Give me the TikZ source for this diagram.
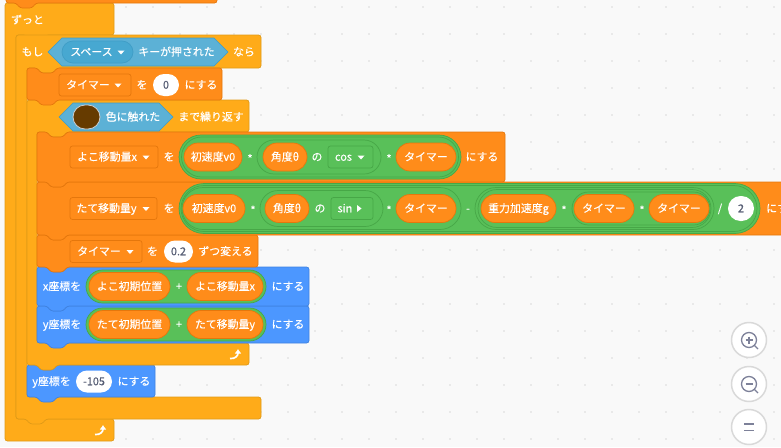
\documentclass[tikz,border=0pt]{standalone}
\usepackage{fontspec}
\setmainfont{Noto Sans CJK JP}[FakeBold=0.25]
\usetikzlibrary{arrows.meta, shapes.misc}

\definecolor{bgcol}{HTML}{F9F9F9}
\definecolor{dotcol}{HTML}{E9E9E9}
\definecolor{varcol}{HTML}{FF8C1A}
\definecolor{varline}{HTML}{E5770C}
\definecolor{ctrlcol}{HTML}{FFAB19}
\definecolor{ctrlline}{HTML}{E09A17}
\definecolor{sensecol}{HTML}{5CB1D6}
\definecolor{senseline}{HTML}{3F9DC6}
\definecolor{sensedark}{HTML}{47A8D1}
\definecolor{opcol}{HTML}{59C059}
\definecolor{opline}{HTML}{47A747}
\definecolor{motioncol}{HTML}{4C97FF}
\definecolor{motionline}{HTML}{3F82E0}
\definecolor{numcol}{HTML}{575E75}
\definecolor{iconcol}{HTML}{7D8199}
\definecolor{swatchcol}{HTML}{663B00}

% 積み重ねブロック
\newcommand\stackblock[5]{%
  \draw[#1, rounded corners=2.5pt] (#2,#3) -- ({#2+10},#3) -- ({#2+14},{#3+5}) -- ({#2+26},{#3+5}) -- ({#2+30},#3) -- (#4,#3)
    -- (#4,#5) -- ({#2+30},#5) -- ({#2+26},{#5+5}) -- ({#2+14},{#5+5}) -- ({#2+10},#5) -- (#2,#5) -- cycle;}
% C型ブロック
\newcommand\cblock[9]{%
  \draw[#1, rounded corners=2.5pt] (#2,#3) -- (#4,#3) -- (#4,#5) -- ({#6+30},#5) -- ({#6+26},{#5+5}) -- ({#6+14},{#5+5}) -- ({#6+10},#5)
    -- (#6,#5) -- (#6,#7) -- (#4,#7) -- (#4,#8) -- ({#2+30},#8) -- ({#2+26},{#8+#9}) -- ({#2+14},{#8+#9}) -- ({#2+10},#8) -- (#2,#8) -- cycle;}

\begin{document}
\begin{tikzpicture}[
    x=1pt, y=-1pt,
    every node/.style={font=\fontsize{10.9pt}{12pt}\selectfont, inner sep=0pt, text height=9pt, text depth=1.5pt},
    label/.style={text=white},
    varblock/.style={fill=varcol, draw=varline, line width=0.7pt},
    ctrlblock/.style={fill=ctrlcol, draw=ctrlline, line width=0.7pt},
    motionblock/.style={fill=motioncol, draw=motionline, line width=0.7pt},
    hexa/.style={fill=sensecol, draw=senseline, line width=0.7pt},
    varpill/.style={rounded rectangle, fill=varcol, draw=varline, line width=0.7pt, text=white, minimum height=28pt},
    numpill/.style={rounded rectangle, fill=white, text=numcol, minimum height=22pt},
    opring/.style={rounded rectangle, fill=opcol, draw=opline, line width=0.7pt},
    vardrop/.style={rectangle, rounded corners=2.5pt, fill=varcol, draw=varline, line width=0.7pt, text=white, minimum height=22pt},
    opdrop/.style={rectangle, rounded corners=2.5pt, fill=opcol, draw=opline, line width=0.7pt, text=white, minimum height=22pt},
    senspill/.style={rounded rectangle, fill=sensedark, draw=senseline, line width=0.7pt, text=white, minimum height=22pt},
    swatch/.style={rounded rectangle, fill=swatchcol, draw=white!80!black, line width=0.8pt, minimum width=27pt, minimum height=24pt},
    zoombtn/.style={circle, fill=white, draw=black!15, line width=1.5pt, minimum size=35pt},
    iconline/.style={draw=iconcol, line width=1.3pt},
    turnarrow/.style={draw=white, line width=1.7pt, -{Latex[length=4.5pt,width=7pt]}}
]
\clip (0,0) rectangle (781,447);
\fill[bgcol] (0,0) rectangle (781,447);

% 背景の点
\foreach \i in {0,...,28} {
    \foreach \j in {0,...,16} {
        \fill[dotcol] ({18+27*\i-1},{7+27*\j-1}) rectangle ({18+27*\i+1},{7+27*\j+1});
    }
}

% ズームボタン
\node[zoombtn] (zoomin) at (749,340) {};
\node[zoombtn] (zoomout) at (749,384) {};
\node[zoombtn] (zoomreset) at (749,427) {};
\foreach \cy in {340,384} {
    \draw[iconline] (749,\cy) circle (7.5);
    \draw[iconline] (754.5,\cy+5.5) -- (758,\cy+9);
    \draw[iconline] (745.5,\cy) -- (752.5,\cy);
}
\draw[iconline] (749,336.5) -- (749,343.5);
\draw[iconline, line width=1.6pt] (744,424) -- (754,424);
\draw[iconline, line width=1.6pt] (744,430.5) -- (754,430.5);

% ブロック
\cblock{ctrlblock}{5}{3}{114}{35}{16}{419}{441}{0}
\cblock{ctrlblock}{16}{35}{261}{68}{27}{397}{419}{5}
\stackblock{motionblock}{27}{365}{155}{397}
\cblock{ctrlblock}{27}{100}{249}{132}{37}{343}{365}{5}
\stackblock{motionblock}{37}{306}{309}{343}
\stackblock{motionblock}{37}{267}{309}{306}
\stackblock{varblock}{37}{235}{258}{267}
\stackblock{varblock}{37}{182}{820}{235}
\stackblock{varblock}{37}{132}{505}{182}
\stackblock{varblock}{27}{68}{222}{100}
\draw[varblock, rounded corners=2.5pt] (6,-10) -- (217,-10) -- (217,3) -- (36,3) -- (32,8) -- (20,8) -- (16,3) -- (6,3) -- cycle;

% ずっと・もし
\node[label, anchor=west] (forever) at (11,20) {ずっと};
\node[label] (iflabel) at (32.5,52) {もし};
\draw[hexa] (48,52) -- (62,38) -- (214,38) -- (228,52) -- (214,66) -- (62,66) -- cycle;
\node[senspill, minimum width=71pt] (spacekey) at (97.5,52) {スペース\kern12pt};
\node[label] (keypressed) at (176.5,52) {キーが押された};
\node[label] (thenlabel) at (244,52) {なら};

% タイマーを0にする
\node[vardrop, minimum width=72pt] (timerdrop) at (95,85) {タイマー\kern14pt};
\node[label] (wo1) at (142,85) {を};
\node[numpill, minimum width=26pt] (zero) at (166,85) {0};
\node[label] (suru1) at (201,85) {にする};

% 色に触れたまで繰り返す
\draw[hexa] (59,117) -- (73,103) -- (159,103) -- (173,117) -- (159,131) -- (73,131) -- cycle;
\node[swatch] (colorswatch) at (86.5,117) {};
\node[label] (touching) at (133,117) {色に触れた};
\node[label] (repeatlabel) at (211,117) {まで繰り返す};

% よこ移動量x
\node[vardrop, minimum width=88pt] (yokodrop) at (114,157) {よこ移動量x\kern14pt};
\node[label] (wo2) at (169,157) {を};
\node[opring, minimum width=282pt, minimum height=44pt] (yokoringa) at (320,157) {};
\node[opring, minimum width=277pt, minimum height=40pt] (yokoringb) at (320,157) {};
\node[opring, minimum width=124pt, minimum height=34pt] (yokoringc) at (319,157) {};
\node[varpill, minimum width=58pt] (vzeroa) at (213,157) {初速度v0};
\node[label] (mula) at (250,159) {*};
\node[varpill, minimum width=44pt] (anglea) at (285,157) {角度θ};
\node[label] (noa) at (317,157) {の};
\node[opdrop, minimum width=45pt] (cosdrop) at (350.5,157) {cos\kern14pt};
\node[label] (mulb) at (389,159) {*};
\node[varpill, minimum width=60pt] (timera) at (426,157) {タイマー};
\node[label] (suru2) at (482,157) {にする};

% たて移動量y
\node[vardrop, minimum width=87pt] (tatedrop) at (113.5,208.5) {たて移動量y\kern14pt};
\node[label] (wo3) at (169,208.5) {を};
\node[opring, minimum width=581pt, minimum height=50pt] (tateringa) at (469.5,208.5) {};
\node[opring, minimum width=576pt, minimum height=46pt] (tateringb) at (469,208.5) {};
\node[opring, minimum width=279pt, minimum height=42pt] (tateringc) at (321.5,208.5) {};
\node[opring, minimum width=123pt, minimum height=36pt] (tateringd) at (321.5,208.5) {};
\node[opring, minimum width=239pt, minimum height=42pt] (tateringe) at (594.5,208.5) {};
\node[opring, minimum width=233pt, minimum height=38pt] (tateringf) at (594.5,208.5) {};
\node[opring, minimum width=138pt, minimum height=33pt] (tateringg) at (641,208.5) {};
\node[varpill, minimum width=62pt] (vzerob) at (214,208.5) {初速度v0};
\node[label] (mulc) at (253,210.5) {*};
\node[varpill, minimum width=44pt] (angleb) at (287,208.5) {角度θ};
\node[label] (nob) at (320,208.5) {の};
\node[opdrop, minimum width=42pt] (sindrop) at (352,208.5) {sin\kern14pt};
\node[label] (muld) at (389,210.5) {*};
\node[varpill, minimum width=60pt] (timerb) at (426,208.5) {タイマー};
\node[label] (minus) at (468,208.5) {-};
\node[varpill, minimum width=75pt] (gravity) at (518.5,208.5) {重力加速度g};
\node[label] (mule) at (564,210.5) {*};
\node[varpill, minimum width=60pt] (timerc) at (604,208.5) {タイマー};
\node[label] (mulf) at (642,210.5) {*};
\node[varpill, minimum width=60pt] (timerd) at (679,208.5) {タイマー};
\node[label] (divide) at (720,208.5) {/};
\node[numpill, minimum width=26pt, minimum height=25pt] (two) at (741,208.5) {2};
\node[label, anchor=west] (suru3) at (766,208.5) {にする};

% タイマーを0.2ずつ変える
\node[vardrop, minimum width=72pt] (timerdropb) at (106,251.5) {タイマー\kern14pt};
\node[label] (wo4) at (152.5,251.5) {を};
\node[numpill, minimum width=29pt] (step) at (178.5,251.5) {0.2};
\node[label] (change) at (225.5,251.5) {ずつ変える};

% x座標・y座標
\node[label] (xlabel) at (62,286.5) {x座標を};
\node[opring, minimum width=180pt, minimum height=33pt] (xring) at (176,286.5) {};
\node[varpill, minimum width=81pt] (xstart) at (129.5,286.5) {よこ初期位置};
\node[label] (plusa) at (179,286.5) {+};
\node[varpill, minimum width=76pt] (xmove) at (225,286.5) {よこ移動量x};
\node[label] (suru4) at (288,286.5) {にする};

\node[label] (ylabel) at (62,324.5) {y座標を};
\node[opring, minimum width=180pt, minimum height=33pt] (yring) at (176,324.5) {};
\node[varpill, minimum width=81pt] (ystart) at (129.5,324.5) {たて初期位置};
\node[label] (plusb) at (179,324.5) {+};
\node[varpill, minimum width=76pt] (ymove) at (225,324.5) {たて移動量y};
\node[label] (suru5) at (288,324.5) {にする};

% y座標を-105にする
\node[label] (ylabelb) at (51.5,381.5) {y座標を};
\node[numpill, minimum width=36pt] (minusval) at (94,381.5) {-105};
\node[label] (suru6) at (134,381.5) {にする};

% ▼と▶
\foreach \tx/\ty in {121/52, 118/85, 146/157, 361/157, 146/208.5, 130/251.5} {
    \fill[white] (\tx-3.5,\ty-1.5) -- (\tx+3.5,\ty-1.5) -- (\tx,\ty+2.5) -- cycle;
}
\fill[white] (357,205) -- (361.5,208.5) -- (357,212) -- cycle;

% 戻り矢印
\foreach \ax/\ay in {236/355, 101/431} {
    \draw[turnarrow] (\ax-6,\ay+3.5) .. controls (\ax-1,\ay+4) and (\ax+2,\ay+1) .. (\ax+2,\ay-6);
}
\end{tikzpicture}
\end{document}
